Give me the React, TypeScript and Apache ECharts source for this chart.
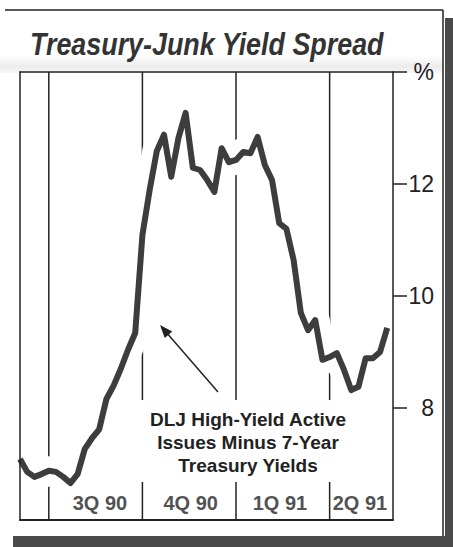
import React, { useEffect, useRef } from "react";
import * as echarts from "echarts";

// Weekly spread, DLJ high-yield active issues minus 7-year Treasuries (%),
// first observation four weeks before the start of 3Q 1990.
const firstWeek = -4;
const spread = [
  7.09, 6.86, 6.77, 6.82, 6.88, 6.86, 6.77, 6.66, 6.82, 7.27, 7.46, 7.62,
  8.16, 8.40, 8.70, 9.04, 9.34, 11.09, 11.89, 12.59, 12.88, 12.13, 12.82, 13.27,
  12.29, 12.25, 12.07, 11.86, 12.64, 12.39, 12.43, 12.57, 12.55, 12.84, 12.34,
  12.07, 11.30, 11.20, 10.64, 9.70, 9.39, 9.57, 8.86, 8.91, 8.98, 8.68, 8.32,
  8.38, 8.89, 8.89, 9.00, 9.43,
];

// Quarter boundaries (weeks from 1 July 1990) and quarter captions
const quarterStarts = [0, 13, 26, 39];
const quarterLabels = ["3Q 90", "4Q 90", "1Q 91", "2Q 91"];
const quarterLabelWeeks = [7.1, 19.7, 32.1, 43.2];

const yTicks = [8, 10, 12, 14];
const yMin = 6;
const yMax = 14;
const xMin = -4;
const xMax = 47.8;

const title = "Treasury-Junk Yield Spread";
const noteLines = ["DLJ High-Yield Active", "Issues Minus 7-Year", "Treasury Yields"];

const INK = "#222222";
const LINE = "#3d3d3d";
const FONT = "'Liberation Sans', Arial, sans-serif";

function arrowHead(tail: number[], tip: number[], len: number, half: number) {
  const dx = tip[0] - tail[0];
  const dy = tip[1] - tail[1];
  const d = Math.hypot(dx, dy);
  const ux = dx / d;
  const uy = dy / d;
  const bx = tip[0] - ux * len;
  const by = tip[1] - uy * len;
  return [
    [tip[0], tip[1]],
    [bx - uy * half, by + ux * half],
    [bx + uy * half, by - ux * half],
  ];
}

const frameAxis = (position: string, width: number) => ({
  type: "value",
  position,
  z: 10,
  axisLine: { show: true, onZero: false, lineStyle: { color: INK, width } },
  axisTick: { show: false },
  axisLabel: { show: false },
  splitLine: { show: false },
});

export default function App() {
  const ref = useRef<HTMLDivElement>(null);

  useEffect(() => {
    if (!ref.current) return;
    const chart = echarts.init(ref.current, null, { renderer: "svg" });

    const points = spread.map((v, i) => [firstWeek + i, v]);
    const arrowTail = [218, 392];
    const arrowTip = [160, 325];

    chart.setOption({
      animation: false,
      backgroundColor: "#ffffff",
      grid: { left: 20, top: 72, width: 373, height: 448, containLabel: false },
      xAxis: [
        { ...frameAxis("bottom", 2), min: xMin, max: xMax },
        { ...frameAxis("top", 1.5), min: xMin, max: xMax },
      ],
      yAxis: [
        {
          ...frameAxis("right", 1.5),
          min: yMin,
          max: yMax,
          axisTick: {
            show: true,
            inside: false,
            length: 14,
            customValues: yTicks,
            lineStyle: { color: INK, width: 1.5 },
          },
          axisLabel: {
            show: true,
            customValues: yTicks,
            margin: 41,
            align: "right",
            verticalAlign: "middle",
            padding: [8, 0, 0, 0],
            color: INK,
            fontFamily: FONT,
            fontSize: 23,
            formatter: (v: number) => (v === yMax ? "%" : String(v)),
          },
        },
        { ...frameAxis("left", 1.5), min: yMin, max: yMax },
      ],
      series: [
        // quarter dividers, full plot height
        ...quarterStarts.map((w) => ({
          type: "line",
          z: 1,
          silent: true,
          showSymbol: false,
          data: [
            [w, yMin],
            [w, yMax],
          ],
          lineStyle: { color: INK, width: 1.5 },
        })),
        {
          // white halo that breaks the dividers around the spread line
          type: "line",
          z: 2,
          silent: true,
          data: points,
          showSymbol: false,
          lineStyle: { color: "#ffffff", width: 29, join: "round" },
        },
        {
          type: "line",
          z: 3,
          silent: true,
          data: points,
          showSymbol: false,
          lineStyle: { color: LINE, width: 6, join: "round" },
        },
        {
          type: "scatter",
          z: 4,
          silent: true,
          symbolSize: 0,
          data: quarterLabelWeeks.map((w, i) => ({ name: quarterLabels[i], value: [w, 6.31] })),
          label: {
            show: true,
            position: "inside",
            formatter: "{b}",
            color: INK,
            fontFamily: FONT,
            fontWeight: "bold",
            fontSize: 20,
          },
        },
      ],
      graphic: [
        // faint grey band across the top of the page
        {
          type: "rect",
          z: 0,
          silent: true,
          shape: { x: 0, y: 56, width: 443, height: 17 },
          style: {
            fill: new echarts.graphic.LinearGradient(0, 0, 0, 1, [
              { offset: 0, color: "rgba(200,200,200,0)" },
              { offset: 0.6, color: "rgba(200,200,200,0.35)" },
              { offset: 1, color: "rgba(200,200,200,0.15)" },
            ]),
          },
        },
        // card frame and drop shadow
        { type: "line", z: 100, shape: { x1: 5, y1: 10, x2: 443, y2: 10 }, style: { stroke: INK, lineWidth: 1.5 } },
        { type: "line", z: 100, shape: { x1: 443, y1: 10, x2: 443, y2: 536 }, style: { stroke: INK, lineWidth: 1.5 } },
        { type: "rect", z: 100, shape: { x: 445, y: 18, width: 8, height: 529 }, style: { fill: "#4a4a4a" } },
        { type: "rect", z: 100, shape: { x: 13, y: 536, width: 440, height: 11 }, style: { fill: "#4a4a4a" } },
        {
          type: "text",
          z: 100,
          x: 30,
          y: 44,
          scaleX: 0.84,
          style: {
            text: title,
            fill: "#333333",
            font: `italic bold 32px ${FONT}`,
            align: "left",
            verticalAlign: "middle",
          },
        },
        // caption box with arrow
        { type: "rect", z: 100, shape: { x: 138, y: 400, width: 214, height: 82 }, style: { fill: "#ffffff" } },
        {
          type: "text",
          z: 101,
          x: 248,
          y: 442,
          style: {
            text: noteLines.join("\n"),
            fill: INK,
            font: `bold 19px ${FONT}`,
            lineHeight: 23,
            align: "center",
            verticalAlign: "middle",
          },
        },
        {
          type: "line",
          z: 101,
          shape: { x1: arrowTail[0], y1: arrowTail[1], x2: arrowTip[0] + 6, y2: arrowTip[1] + 7 },
          style: { stroke: INK, lineWidth: 1.5 },
        },
        {
          type: "polygon",
          z: 101,
          shape: { points: arrowHead(arrowTail, arrowTip, 13, 5) },
          style: { fill: INK },
        },
      ],
    });

    return () => chart.dispose();
  }, []);

  return (
    <div
      ref={ref}
      style={{ position: "absolute", left: 0, top: 0, width: 453, height: 547, background: "#fff" }}
    />
  );
}
